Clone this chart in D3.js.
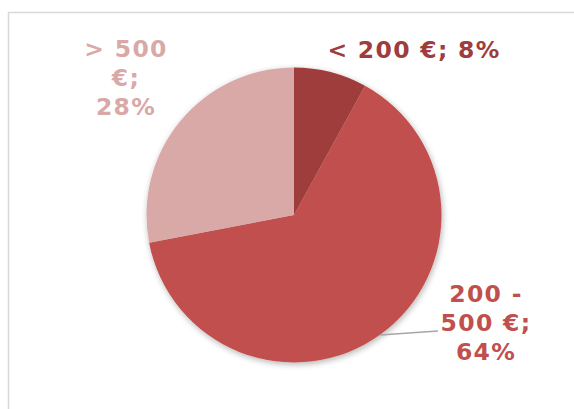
<!DOCTYPE html>
<html><head><meta charset="utf-8">
<script src="https://cdn.jsdelivr.net/npm/d3@7"></script>
<style>html,body{margin:0;padding:0;background:#fff;}svg{display:block;}</style>
</head><body>
<svg id="chart" width="574" height="409"></svg>
<script>
const categories = ["< 200 €", "200 - 500 €", "> 500 €"];
const values = [8, 64, 28];
const colors = ["#9E3D3B", "#C0504D", "#D9A9A8"];
const labelLines = [["< 200 €; 8%"], ["200 -", "500 €;", "64%"], ["> 500", "€;", "28%"]];

const svg = d3.select("#chart");
const defs = svg.append("defs");
const f = defs.append("filter").attr("id","sh").attr("x","-20%").attr("y","-20%").attr("width","140%").attr("height","140%");
f.append("feGaussianBlur").attr("in","SourceAlpha").attr("stdDeviation",3).attr("result","b");
f.append("feOffset").attr("in","b").attr("dx",1).attr("dy",2).attr("result","o");
f.append("feComponentTransfer").attr("in","o").attr("result","o2").append("feFuncA").attr("type","linear").attr("slope",0.3);
const m = f.append("feMerge"); m.append("feMergeNode").attr("in","o2"); m.append("feMergeNode").attr("in","SourceGraphic");

svg.append("rect").attr("x",8.5).attr("y",12.5).attr("width",600).attr("height",420)
  .attr("fill","#fff").attr("stroke","#D9D9D9").attr("stroke-width",1.5);

const cx = 294, cy = 215, r = 147.5;
const pie = d3.pie().sort(null).value(d => d)(values);
const arc = d3.arc().innerRadius(0).outerRadius(r);
const g = svg.append("g").attr("transform", `translate(${cx},${cy})`);
const gs = g.append("g").attr("filter","url(#sh)");
gs.selectAll("path").data(pie).join("path").attr("d", arc).attr("fill", (d,i) => colors[i]);

svg.append("polyline")
  .attr("points", `380,335 438,331`)
  .attr("fill","none").attr("stroke","#A6A6A6").attr("stroke-width",1.5);

const labelPos = [[414, 58], [486, 302], [126, 57]];
const lh = 29;
labelLines.forEach((lines, i) => {
  const t = svg.append("text").attr("text-anchor","middle")
    .attr("font-family","DejaVu Sans, Verdana, sans-serif").attr("font-weight","bold")
    .attr("font-size","23.5px").attr("letter-spacing","1.3px").attr("fill", colors[i]);
  lines.forEach((s, k) => t.append("tspan").attr("x", labelPos[i][0]).attr("y", labelPos[i][1] + k*lh).text(s));
});
</script>
</body></html>
